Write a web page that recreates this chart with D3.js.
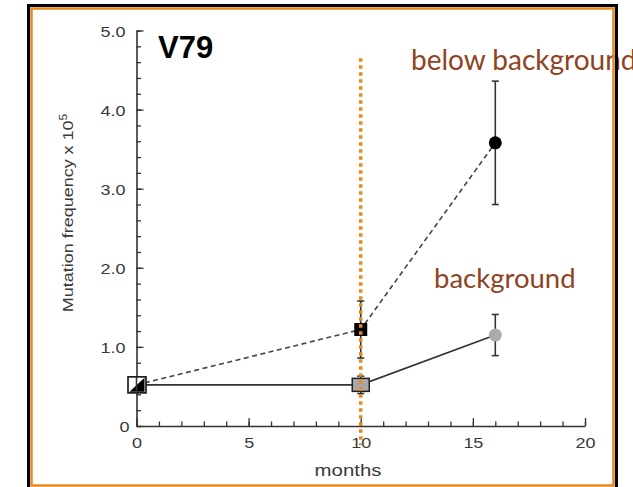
<!DOCTYPE html>
<html><head><meta charset="utf-8">
<script src="https://cdn.jsdelivr.net/npm/d3@7"></script>
<style>body{margin:0;background:#fff;overflow:hidden}</style></head>
<body><svg id="c" width="633" height="487"></svg>
<script>
// ---- data ----
const months = [0, 10, 16];
const belowVals = [0.52, 1.22, 3.58];
const belowErr = [0, 0.36, 0.78];
const bgVals = [0.52, 0.52, 1.15];
const bgErr = [0, 0.11, 0.26];
const yTicks = [0, 1, 2, 3, 4, 5];
const yTickLabels = ["0", "1.0", "2.0", "3.0", "4.0", "5.0"];
const yMinorTicks = d3.range(0, 5.01, 0.2);
const xTicks = [0, 5, 10, 15, 20];
const xTickLabels = ["0", "5", "10", "15", "20"];
const xMinorTicks = d3.range(0, 20.01, 1);
const markerMonth = [10];
const markerRange = [-0.24, 4.65];

const svg = d3.select("#c");
const x = d3.scaleLinear().domain([0, 20]).range([136.5, 585]);
const y = d3.scaleLinear().domain([0, 5]).range([426, 30.5]);
const axisCol = "#333";
const labelFont = "'Liberation Sans', Arial, sans-serif";

// y axis minor ticks
const gyMinor = svg.append("g").attr("transform", `translate(${x(0)},0)`)
  .call(d3.axisLeft(y).tickValues(yMinorTicks).tickSize(-4.5).tickFormat(""));
gyMinor.select(".domain").remove();
// y axis major
const gy = svg.append("g").attr("transform", `translate(${x(0)},0)`)
  .call(d3.axisLeft(y).tickValues(yTicks).tickSize(-7).tickSizeOuter(0)
    .tickFormat((d, i) => yTickLabels[i]));
gy.selectAll("text").attr("x", 0).attr("dy", null)
  .attr("transform", d => `translate(${d === 0 ? -7 : -11},5.5) scale(1.2,1)`)
  .style("font-family", labelFont).style("font-size", "15px").attr("fill", "#3a3a3a");

// x axis minor
const gxMinor = svg.append("g").attr("transform", `translate(0,${y(0)})`)
  .call(d3.axisBottom(x).tickValues(xMinorTicks).tickSize(-4.5).tickFormat(""));
gxMinor.select(".domain").remove();
const gx = svg.append("g").attr("transform", `translate(0,${y(0)})`)
  .call(d3.axisBottom(x).tickValues(xTicks).tickSize(-8).tickSizeOuter(0)
    .tickFormat((d, i) => xTickLabels[i]));
gx.selectAll("text").attr("y", 0).attr("dy", null)
  .attr("transform", "translate(0,22) scale(1.2,1)")
  .style("font-family", labelFont).style("font-size", "15px").attr("fill", "#3a3a3a");

[gyMinor, gy, gxMinor, gx].forEach(g => {
  g.selectAll("line").attr("stroke", axisCol).attr("stroke-width", 1.3);
  g.selectAll(".domain").attr("stroke", axisCol).attr("stroke-width", 1.6);
});

// axis titles
svg.append("text").attr("transform", `translate(348,476) scale(1.2,1)`)
  .attr("text-anchor", "middle").style("font-family", labelFont).style("font-size", "17px")
  .attr("fill", "#3a3a3a").text("months");
const yt = svg.append("text").attr("transform", `translate(73,213) rotate(-90) scale(1.2,1)`)
  .attr("text-anchor", "middle").style("font-family", labelFont).style("font-size", "15px")
  .attr("fill", "#3a3a3a");
yt.append("tspan").text("Mutation frequency x 10");
yt.append("tspan").attr("dy", -6).style("font-size", "10px").text("5");

// lines
const below = months.map((m, i) => ({m, v: belowVals[i], e: belowErr[i]}));
const bg = months.map((m, i) => ({m, v: bgVals[i], e: bgErr[i]}));
const line = d3.line().x(d => x(d.m)).y(d => y(d.v));
svg.append("path").attr("d", line(below)).attr("fill", "none").attr("stroke", "#444")
  .attr("stroke-width", 1.6).attr("stroke-dasharray", "5,3.5");
svg.append("path").attr("d", line(bg)).attr("fill", "none").attr("stroke", "#333")
  .attr("stroke-width", 1.6);

// error bars
function errBars(data) {
  const g = svg.append("g").attr("stroke", "#333").attr("stroke-width", 1.6);
  data.filter(d => d.e > 0).forEach(d => {
    g.append("line").attr("x1", x(d.m)).attr("x2", x(d.m)).attr("y1", y(d.v - d.e)).attr("y2", y(d.v + d.e));
    [d.v - d.e, d.v + d.e].forEach(v => g.append("line")
      .attr("x1", x(d.m) - 3.5).attr("x2", x(d.m) + 3.5).attr("y1", y(v)).attr("y2", y(v)));
  });
}
errBars(below);
errBars(bg);

// markers
// month 0: overlapping open square + black marker
const p0x = x(bg[0].m), p0y = y(bg[0].v);
svg.append("rect").attr("x", p0x - 8.5).attr("y", p0y - 8).attr("width", 18).attr("height", 16)
  .attr("fill", "#fff").attr("stroke", "#111").attr("stroke-width", 1.6);
svg.append("path").attr("d", `M${p0x - 7},${p0y + 7}L${p0x + 8},${p0y + 7}L${p0x + 8},${p0y - 7}Z`)
  .attr("fill", "#000");
svg.append("line").attr("x1", p0x).attr("x2", p0x).attr("y1", p0y - 8).attr("y2", p0y + 8)
  .attr("stroke", axisCol).attr("stroke-width", 1.6);
// month 10
svg.append("rect").attr("x", x(bg[1].m) - 8.5).attr("y", y(bg[1].v) - 6.5).attr("width", 17).attr("height", 13)
  .attr("fill", "#a8a8a8").attr("stroke", "#222").attr("stroke-width", 1.5);
svg.append("rect").attr("x", x(below[1].m) - 6.5).attr("y", y(below[1].v) - 6.5).attr("width", 13).attr("height", 13)
  .attr("fill", "#000");
// month 16
svg.append("circle").attr("cx", x(bg[2].m)).attr("cy", y(bg[2].v)).attr("r", 6.5).attr("fill", "#ababab");
svg.append("circle").attr("cx", x(below[2].m)).attr("cy", y(below[2].v)).attr("r", 6.5).attr("fill", "#000");

// orange dotted marker line
svg.append("line").attr("x1", x(markerMonth[0])).attr("x2", x(markerMonth[0]))
  .attr("y1", y(markerRange[1])).attr("y2", y(markerRange[0]))
  .attr("stroke", "#E8891C").attr("stroke-width", 3.5).attr("stroke-dasharray", "3.5,3.5");

// annotations
svg.append("text").attr("x", 158).attr("y", 58)
  .style("font-family", "'Liberation Sans', Arial, sans-serif").style("font-weight", "bold")
  .style("font-size", "31px").attr("fill", "#000").text("V79");
const brown = "#8E4322";
svg.append("text").attr("x", 411).attr("y", 70).style("font-family", "Lato, sans-serif")
  .style("font-size", "28px").attr("fill", brown).text("below background");
svg.append("text").attr("x", 434).attr("y", 288).style("font-family", "Lato, sans-serif")
  .style("font-size", "27.5px").attr("fill", brown).text("background");

// frame (drawn on top)
svg.append("rect").attr("x", 28.5).attr("y", 5.5).attr("width", 588).attr("height", 500)
  .attr("fill", "none").attr("stroke", "#000").attr("stroke-width", 3);
svg.append("rect").attr("x", 31.5).attr("y", 8.5).attr("width", 582).attr("height", 477)
  .attr("fill", "none").attr("stroke", "#E8891C").attr("stroke-width", 2.5);
</script></body></html>
